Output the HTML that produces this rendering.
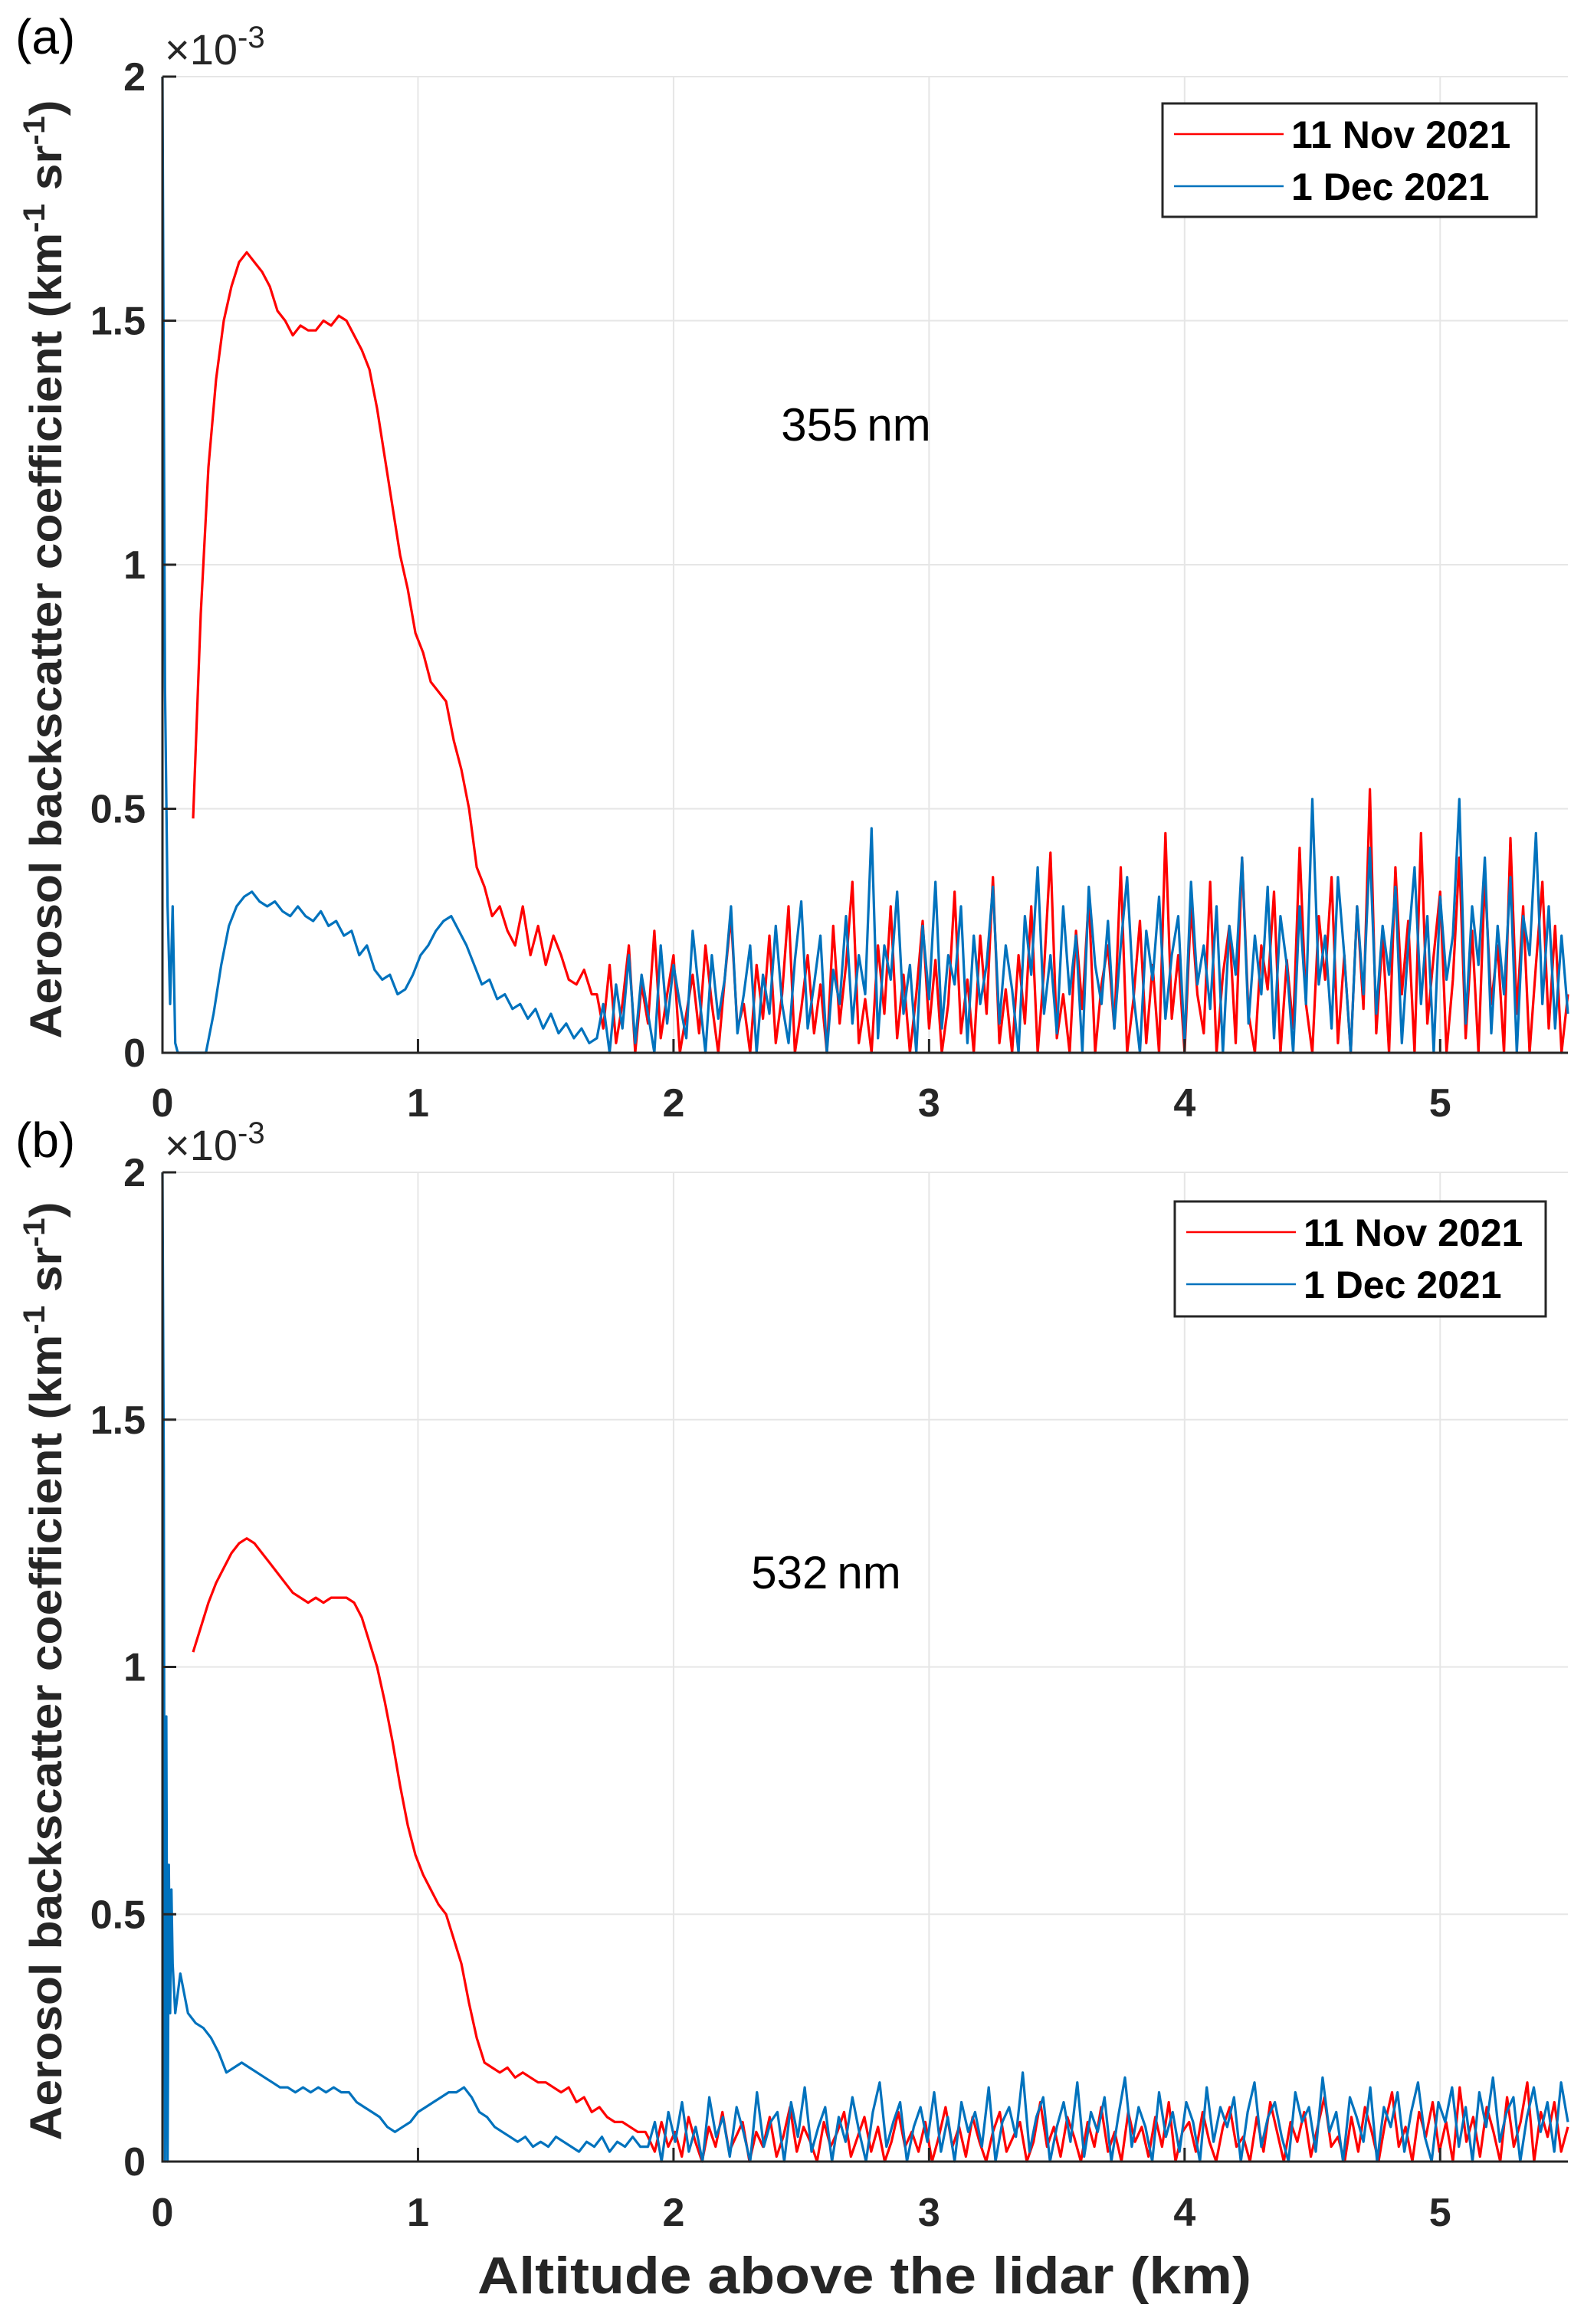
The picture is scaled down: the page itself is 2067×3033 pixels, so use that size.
<!DOCTYPE html>
<html><head><meta charset="utf-8"><style>
html,body{margin:0;padding:0;background:#fff;}
svg{display:block;font-family:"Liberation Sans",Arial,sans-serif;}
</style></head><body>
<svg id="fig" width="2067" height="3033" viewBox="0 0 2067 3033" xmlns="http://www.w3.org/2000/svg"></svg>
<script>
// ---- data (values in 1e-3 km^-1 sr^-1, altitude in km) ----
const xTicks = [0,1,2,3,4,5];
const yTicks = [0,0.5,1,1.5,2];
const yTickLabels = ["0","0.5","1","1.5","2"];
const seriesNames = ["11 Nov 2021","1 Dec 2021"];
const panelLabels = ["(a)","(b)"];
const wavelengths = ["355\u2009nm","532\u2009nm"];

const altRedA = [0.12,0.15,0.18,0.21,0.24,0.27,0.30,0.33,0.36,0.39,0.42,0.45,0.48,0.51,0.54,0.57,0.60,0.63,0.66,0.69,0.72,0.75,0.78,0.81,0.84,0.87,0.90,0.93,0.96,0.99,1.02,1.05,1.08,1.11,1.14,1.17,1.20,1.23,1.26,1.29,1.32,1.35,1.38,1.41,1.44,1.47,1.50,1.53,1.56,1.59,1.62,1.65,1.68];
const valRedA = [0.48,0.9,1.2,1.38,1.5,1.57,1.62,1.64,1.62,1.6,1.57,1.52,1.5,1.47,1.49,1.48,1.48,1.5,1.49,1.51,1.5,1.47,1.44,1.4,1.32,1.22,1.12,1.02,0.95,0.86,0.82,0.76,0.74,0.72,0.64,0.58,0.5,0.38,0.34,0.28,0.3,0.25,0.22,0.3,0.2,0.26,0.18,0.24,0.2,0.15,0.14,0.17,0.12];
const altBlueA = [0.0,0.01,0.02,0.03,0.04,0.05,0.06,0.10,0.17,0.20,0.23,0.26,0.29,0.32,0.35,0.38,0.41,0.44,0.47,0.50,0.53,0.56,0.59,0.62,0.65,0.68,0.71,0.74,0.77,0.80,0.83,0.86,0.89,0.92,0.95,0.98,1.01,1.04,1.07,1.10,1.13,1.16,1.19,1.22,1.25,1.28,1.31,1.34,1.37,1.40,1.43,1.46,1.49,1.52,1.55,1.58,1.61,1.64,1.67];
const valBlueA = [2.0,0.75,0.3,0.1,0.3,0.02,0.0,0.0,0.0,0.08,0.18,0.26,0.3,0.32,0.33,0.31,0.3,0.31,0.29,0.28,0.3,0.28,0.27,0.29,0.26,0.27,0.24,0.25,0.2,0.22,0.17,0.15,0.16,0.12,0.13,0.16,0.2,0.22,0.25,0.27,0.28,0.25,0.22,0.18,0.14,0.15,0.11,0.12,0.09,0.1,0.07,0.09,0.05,0.08,0.04,0.06,0.03,0.05,0.02];
const noiseStartA = 1.70, noiseEnd = 5.5;
const noiseRedA = [0.12,0.05,0.18,0.02,0.1,0.22,0.0,0.14,0.06,0.25,0.03,0.12,0.2,0.0,0.08,0.16,0.04,0.22,0.1,0.0,0.15,0.28,0.05,0.1,0.0,0.18,0.07,0.24,0.02,0.12,0.3,0.0,0.09,0.2,0.04,0.14,0.0,0.26,0.06,0.18,0.35,0.02,0.11,0.0,0.22,0.08,0.3,0.03,0.16,0.0,0.12,0.27,0.05,0.19,0.0,0.1,0.33,0.04,0.15,0.0,0.24,0.08,0.36,0.02,0.13,0.0,0.2,0.06,0.3,0.0,0.17,0.41,0.03,0.12,0.0,0.25,0.09,0.32,0.0,0.14,0.22,0.05,0.38,0.0,0.11,0.27,0.02,0.18,0.0,0.45,0.07,0.2,0.0,0.3,0.12,0.04,0.35,0.0,0.16,0.26,0.02,0.4,0.08,0.0,0.22,0.13,0.33,0.0,0.19,0.05,0.42,0.1,0.0,0.28,0.15,0.36,0.02,0.2,0.0,0.3,0.09,0.54,0.04,0.24,0.0,0.38,0.12,0.27,0.0,0.45,0.06,0.2,0.33,0.0,0.15,0.4,0.03,0.25,0.0,0.36,0.1,0.22,0.0,0.44,0.08,0.3,0.0,0.18,0.35,0.05,0.26,0.0,0.12];
const noiseBlueA = [0.03,0.1,0.0,0.14,0.05,0.2,0.02,0.16,0.08,0.0,0.22,0.06,0.18,0.1,0.03,0.25,0.12,0.0,0.2,0.07,0.15,0.3,0.04,0.12,0.22,0.0,0.16,0.08,0.26,0.1,0.02,0.19,0.31,0.05,0.14,0.24,0.0,0.17,0.1,0.28,0.06,0.2,0.12,0.46,0.03,0.22,0.15,0.33,0.08,0.18,0.0,0.26,0.11,0.35,0.05,0.2,0.14,0.3,0.02,0.24,0.1,0.18,0.34,0.06,0.22,0.13,0.0,0.28,0.16,0.38,0.08,0.2,0.04,0.3,0.12,0.24,0.0,0.34,0.18,0.1,0.27,0.05,0.22,0.36,0.12,0.0,0.25,0.15,0.32,0.07,0.2,0.28,0.02,0.35,0.14,0.22,0.09,0.3,0.0,0.26,0.16,0.4,0.06,0.24,0.12,0.34,0.03,0.28,0.18,0.0,0.3,0.1,0.52,0.14,0.24,0.05,0.36,0.2,0.0,0.3,0.12,0.42,0.08,0.26,0.16,0.34,0.02,0.22,0.38,0.1,0.28,0.0,0.32,0.15,0.24,0.52,0.06,0.3,0.18,0.4,0.04,0.26,0.12,0.36,0.0,0.28,0.2,0.45,0.1,0.3,0.05,0.24,0.08];

const altRedB = [0.12,0.15,0.18,0.21,0.24,0.27,0.30,0.33,0.36,0.39,0.42,0.45,0.48,0.51,0.54,0.57,0.60,0.63,0.66,0.69,0.72,0.75,0.78,0.81,0.84,0.87,0.90,0.93,0.96,0.99,1.02,1.05,1.08,1.11,1.14,1.17,1.20,1.23,1.26,1.29,1.32,1.35,1.38,1.41,1.44,1.47,1.50,1.53,1.56,1.59,1.62,1.65,1.68,1.71,1.74,1.77,1.80,1.83,1.86,1.89];
const valRedB = [1.03,1.08,1.13,1.17,1.2,1.23,1.25,1.26,1.25,1.23,1.21,1.19,1.17,1.15,1.14,1.13,1.14,1.13,1.14,1.14,1.14,1.13,1.1,1.05,1.0,0.93,0.85,0.76,0.68,0.62,0.58,0.55,0.52,0.5,0.45,0.4,0.32,0.25,0.2,0.19,0.18,0.19,0.17,0.18,0.17,0.16,0.16,0.15,0.14,0.15,0.12,0.13,0.1,0.11,0.09,0.08,0.08,0.07,0.06,0.06];
const altBlueB = [0.0,0.005,0.01,0.015,0.02,0.025,0.03,0.035,0.04,0.05,0.07,0.10,0.13,0.16,0.19,0.22,0.25,0.28,0.31,0.34,0.37,0.40,0.43,0.46,0.49,0.52,0.55,0.58,0.61,0.64,0.67,0.70,0.73,0.76,0.79,0.82,0.85,0.88,0.91,0.94,0.97,1.00,1.03,1.06,1.09,1.12,1.15,1.18,1.21,1.24,1.27,1.30,1.33,1.36,1.39,1.42,1.45,1.48,1.51,1.54,1.57,1.60,1.63,1.66,1.69,1.72,1.75,1.78,1.81,1.84,1.87];
const valBlueB = [2.0,1.4,0.0,0.9,0.0,0.6,0.3,0.55,0.4,0.3,0.38,0.3,0.28,0.27,0.25,0.22,0.18,0.19,0.2,0.19,0.18,0.17,0.16,0.15,0.15,0.14,0.15,0.14,0.15,0.14,0.15,0.14,0.14,0.12,0.11,0.1,0.09,0.07,0.06,0.07,0.08,0.1,0.11,0.12,0.13,0.14,0.14,0.15,0.13,0.1,0.09,0.07,0.06,0.05,0.04,0.05,0.03,0.04,0.03,0.05,0.04,0.03,0.02,0.04,0.03,0.05,0.02,0.04,0.03,0.05,0.03];
const noiseStartB = 1.90;
const noiseRedB = [0.05,0.02,0.08,0.03,0.06,0.01,0.09,0.04,0.0,0.07,0.03,0.1,0.02,0.05,0.08,0.0,0.06,0.03,0.09,0.01,0.05,0.11,0.02,0.07,0.04,0.0,0.08,0.03,0.06,0.1,0.01,0.05,0.09,0.02,0.07,0.0,0.04,0.1,0.03,0.06,0.02,0.08,0.0,0.05,0.11,0.03,0.07,0.01,0.09,0.04,0.0,0.06,0.1,0.02,0.05,0.08,0.0,0.04,0.12,0.03,0.07,0.01,0.09,0.05,0.0,0.08,0.03,0.11,0.02,0.06,0.0,0.1,0.04,0.07,0.01,0.09,0.03,0.12,0.0,0.06,0.08,0.02,0.1,0.04,0.0,0.07,0.11,0.03,0.05,0.0,0.09,0.02,0.12,0.06,0.0,0.08,0.04,0.1,0.01,0.07,0.13,0.03,0.05,0.0,0.09,0.02,0.11,0.06,0.0,0.08,0.14,0.03,0.07,0.0,0.1,0.05,0.12,0.02,0.08,0.0,0.15,0.04,0.09,0.01,0.11,0.06,0.0,0.13,0.03,0.08,0.16,0.0,0.1,0.05,0.12,0.02,0.07];
const noiseBlueB = [0.03,0.08,0.0,0.1,0.04,0.12,0.02,0.07,0.0,0.13,0.05,0.09,0.01,0.11,0.06,0.0,0.14,0.03,0.08,0.1,0.0,0.12,0.05,0.15,0.02,0.07,0.11,0.0,0.09,0.04,0.13,0.06,0.0,0.1,0.16,0.03,0.08,0.12,0.0,0.07,0.11,0.04,0.14,0.02,0.09,0.0,0.12,0.06,0.1,0.03,0.15,0.0,0.08,0.11,0.05,0.18,0.02,0.09,0.13,0.0,0.07,0.12,0.04,0.16,0.01,0.1,0.06,0.13,0.0,0.09,0.17,0.03,0.11,0.07,0.0,0.14,0.05,0.1,0.02,0.12,0.08,0.0,0.15,0.04,0.11,0.07,0.13,0.0,0.1,0.16,0.03,0.09,0.12,0.05,0.0,0.14,0.08,0.11,0.02,0.17,0.06,0.1,0.0,0.13,0.09,0.04,0.15,0.0,0.11,0.07,0.14,0.02,0.1,0.16,0.05,0.0,0.12,0.08,0.15,0.03,0.11,0.0,0.14,0.07,0.17,0.04,0.1,0.13,0.0,0.09,0.15,0.06,0.12,0.02,0.16,0.08];

// ---- layout ----
const NS = "http://www.w3.org/2000/svg";
const svg = document.getElementById('fig');
const X0 = 212, X1 = 2046, XMAX = 5.5;
const panels = [
  {top:100, bot:1374, legend:{x:1517,y:135,w:488,h:148}, wl:{x:1117,y:575}, lab:{x:20,y:70}, xl:{y:1457}, ytc:743,
   series:[{alt:altRedA,val:valRedA,noise:noiseRedA,ns:noiseStartA,color:'#ff0000'},
           {alt:altBlueA,val:valBlueA,noise:noiseBlueA,ns:noiseStartA,color:'#0072bd'}]},
  {top:1530, bot:2821, legend:{x:1533,y:1568,w:484,h:150}, wl:{x:1078,y:2073}, lab:{x:20,y:1510}, xl:{y:2905}, ytc:2181,
   series:[{alt:altRedB,val:valRedB,noise:noiseRedB,ns:noiseStartB,color:'#ff0000'},
           {alt:altBlueB,val:valBlueB,noise:noiseBlueB,ns:noiseStartB,color:'#0072bd'}]}
];
function el(tag, attrs, parent){const e=document.createElementNS(NS,tag);for(const k in attrs)e.setAttribute(k,attrs[k]);(parent||svg).appendChild(e);return e;}
const xs = v => X0 + v/XMAX*(X1-X0);

panels.forEach((p,pi)=>{
  const ys = v => p.bot - v/2*(p.bot-p.top);
  const g = el('g',{});
  
  
  xTicks.forEach(t=>{ if(t>0){ const l=el('line',{x1:xs(t),x2:xs(t),y1:p.top,y2:p.bot,stroke:'#e6e6e6','stroke-width':2},g);
     }});
  yTicks.forEach(t=>{ if(t>0){ const l=el('line',{x1:X0,x2:X1,y1:ys(t),y2:ys(t),stroke:'#e6e6e6','stroke-width':2},g);
     }});
  p.series.forEach((s,si)=>{
    const pts=[];
    for(let i=0;i<s.alt.length;i++) pts.push(xs(s.alt[i]).toFixed(1)+','+ys(s.val[i]).toFixed(1));
    const n=s.noise.length;
    for(let i=0;i<n;i++){const a=s.ns+(noiseEnd-s.ns)*i/(n-1); pts.push(xs(a).toFixed(1)+','+ys(s.noise[i]).toFixed(1));}
    const pl=el('polyline',{points:pts.join(' '),fill:'none',stroke:s.color,'stroke-width':3.2,'stroke-linejoin':'round'},g);
    
    
  });
  const ax=el('path',{d:`M${X0},${p.top} L${X0},${p.bot} L${X1},${p.bot}`,fill:'none',stroke:'#262626','stroke-width':3},g);
   
  yTicks.forEach((t,i)=>{
    el('line',{x1:X0,x2:X0+18,y1:ys(t),y2:ys(t),stroke:'#262626','stroke-width':3},g);
    const tx=el('text',{x:190,y:ys(t)+18,'text-anchor':'end','font-size':52,'font-weight':'bold',fill:'#262626'},g);
    tx.textContent=yTickLabels[i];
     
  });
  xTicks.forEach(t=>{
    el('line',{x1:xs(t),x2:xs(t),y1:p.bot,y2:p.bot-18,stroke:'#262626','stroke-width':3},g);
    const tx=el('text',{x:xs(t),y:p.xl.y,'text-anchor':'middle','font-size':52,'font-weight':'bold',fill:'#262626'},g);
    tx.textContent=String(t);
     
  });
  const ex=el('text',{x:215,y:p.top-16,'font-size':56,fill:'#262626'},g);
  ex.innerHTML='\u00d710<tspan dy="-22" font-size="40">-3</tspan>';
   
  const pl=el('text',{x:p.lab.x,y:p.lab.y,'font-size':64,fill:'#000'},g);
  pl.textContent=panelLabels[pi];
   
  const wl=el('text',{x:p.wl.x,y:p.wl.y,'text-anchor':'middle','font-size':60,fill:'#000'},g);
  wl.textContent=wavelengths[pi];
   
  const yt=el('text',{x:0,y:0,'text-anchor':'middle','font-size':58,'font-weight':'bold',fill:'#262626',textLength:1225,lengthAdjust:'spacingAndGlyphs',transform:`translate(80,${p.ytc}) rotate(-90)`},g);
  yt.innerHTML='Aerosol backscatter coefficient (km<tspan dy="-22" font-size="40">-1</tspan><tspan dy="22"> sr</tspan><tspan dy="-22" font-size="40">-1</tspan><tspan dy="22">)</tspan>';
   
  const L=p.legend;
  const lg=el('g',{},g);
   
  el('rect',{x:L.x,y:L.y,width:L.w,height:L.h,fill:'#fff',stroke:'#262626','stroke-width':3},lg);
  p.series.forEach((s,si)=>{
    const yy=L.y+40+si*68;
    const en=el('g',{},lg);
     
    el('line',{x1:L.x+15,x2:L.x+158,y1:yy,y2:yy,stroke:s.color,'stroke-width':2.6},en);
    const t=el('text',{x:L.x+168,y:yy+18,'font-size':50,'font-weight':'bold',fill:'#000'},en);
    t.textContent=seriesNames[si];
  });
});
const xt=el('text',{x:1128,y:2993,'text-anchor':'middle','font-size':68,'font-weight':'bold',fill:'#262626',textLength:1010,lengthAdjust:'spacingAndGlyphs'});
xt.textContent='Altitude above the lidar (km)';


</script>
</body></html>
